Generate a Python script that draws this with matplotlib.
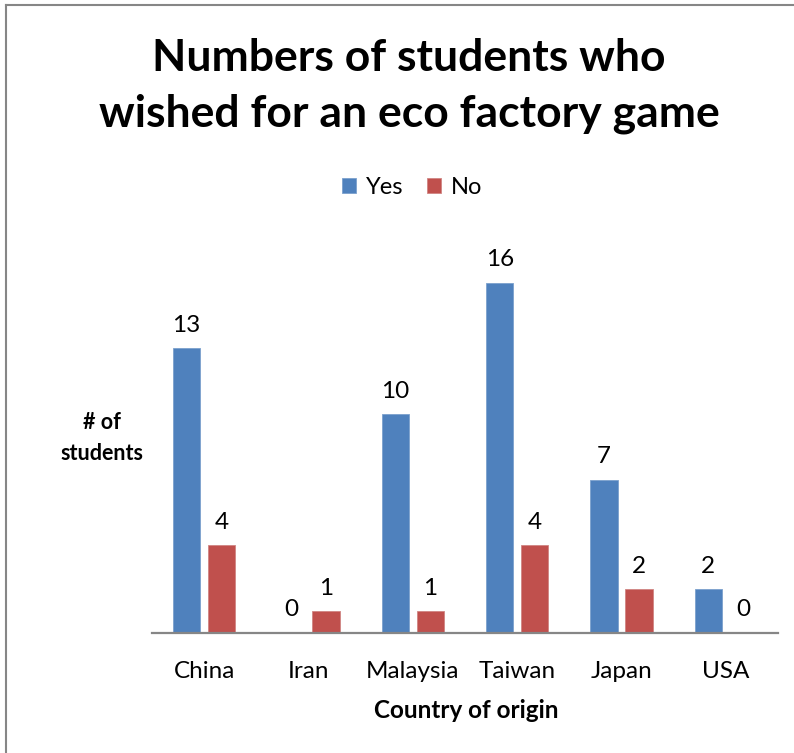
import numpy as np
import matplotlib.pyplot as plt
from matplotlib.lines import Line2D

countries = ["China", "Iran", "Malaysia", "Taiwan", "Japan", "USA"]
yes_counts = [13, 0, 10, 16, 7, 2]
no_counts = [4, 1, 1, 4, 2, 0]

plt.rcParams['font.family'] = ['Lato', 'DejaVu Sans']

W, H = 794, 753
fig = plt.figure(figsize=(W / 100, H / 100), dpi=100)

# plot area in pixel terms: x 152..778, y 239..633
ax = fig.add_axes([152 / W, 1 - 633 / H, (778 - 152) / W, (633 - 239) / H])

x = np.arange(len(countries))
bw = 0.264
off = 0.168
bars_yes = ax.bar(x - off, yes_counts, bw, color='#4F81BD', edgecolor='#7BA0CD', linewidth=0.6, label='Yes')
bars_no = ax.bar(x + off, no_counts, bw, color='#C0504D', edgecolor='#D08583', linewidth=0.6, label='No')

for bars, vals in [(bars_yes, yes_counts), (bars_no, no_counts)]:
    for b, v in zip(bars, vals):
        ax.annotate(str(v), (b.get_x() + b.get_width() / 2, v), xytext=(0, 9),
                    textcoords='offset points', ha='center', va='bottom', fontsize=17.5)

ax.set_xlim(-0.5, len(countries) - 0.5)
ax.set_ylim(0, 18)
ax.set_yticks([])
ax.set_xticks(x)
ax.set_xticklabels(countries, fontsize=17.5)
ax.tick_params(axis='x', length=0, pad=20)
for s in ['top', 'right', 'left']:
    ax.spines[s].set_visible(False)
ax.spines['bottom'].set_color('#868686')
ax.spines['bottom'].set_linewidth(1.6)

fig.text(466 / W, 1 - 710 / H, "Country of origin", ha='center', va='center',
         fontsize=17.5, fontweight='bold')
fig.text(102 / W, 1 - 438 / H, "# of\nstudents", ha='center', va='center',
         fontsize=15.5, fontweight='bold', linespacing=1.6)

fig.text(409 / W, 1 - 86 / H, "Numbers of students who\nwished for an eco factory game",
         ha='center', va='center', fontsize=32, fontweight='bold', linespacing=1.45)

fig.legend(handles=[bars_yes, bars_no], labels=['Yes', 'No'], loc='center',
           bbox_to_anchor=(412 / W, 1 - 187 / H), ncol=2, frameon=False, fontsize=17,
           handlelength=0.6, handleheight=0.6, handletextpad=0.4, columnspacing=1.0)

# chart frame
fig.add_artist(Line2D([6 / W, 6 / W], [0, 1 - 5 / H], color='#868686', linewidth=1.5))
fig.add_artist(Line2D([6 / W, 1], [1 - 5 / H, 1 - 5 / H], color='#868686', linewidth=1.5))

fig.savefig("out.png", dpi=100)
